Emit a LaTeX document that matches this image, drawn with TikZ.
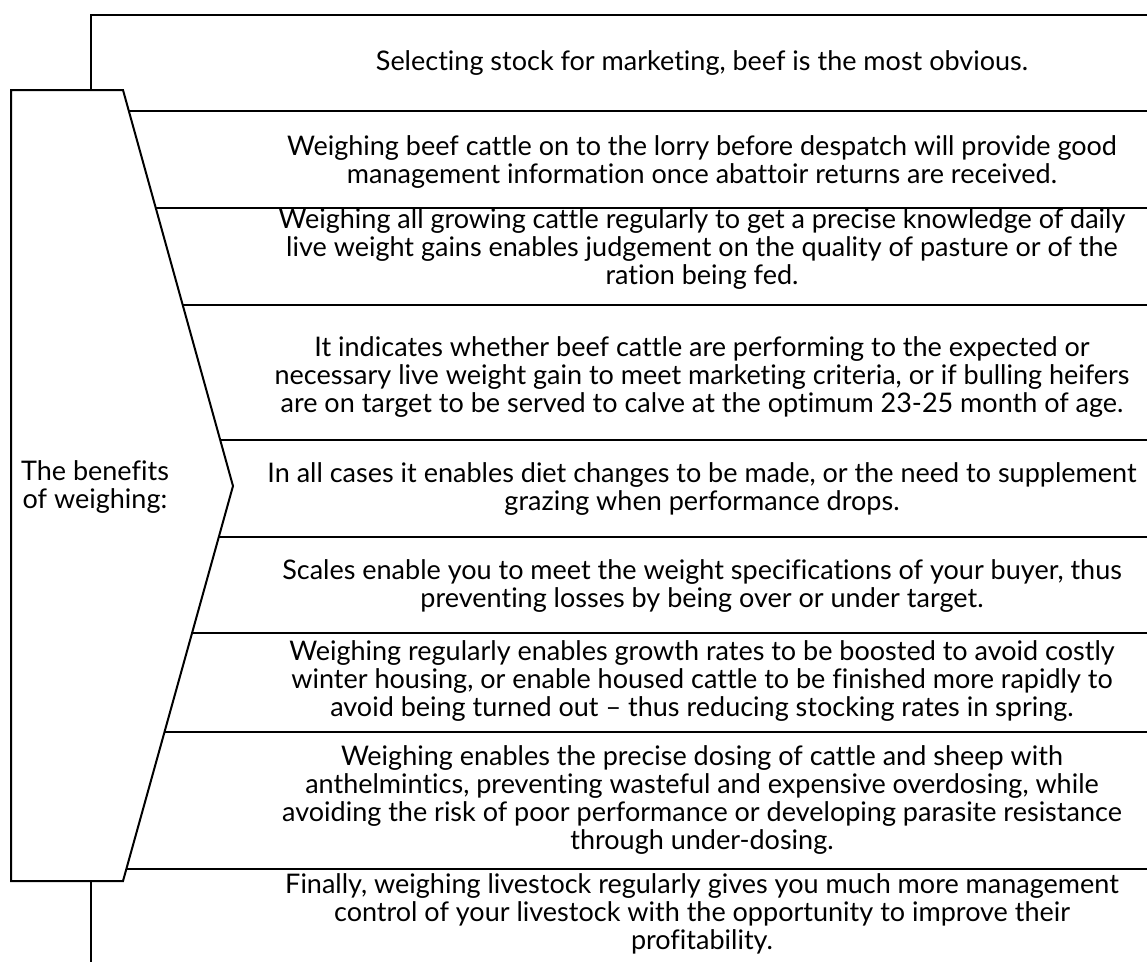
\documentclass[tikz,border=0pt]{standalone}
\usepackage{fontspec}
\setmainfont{Lato}[Ligatures=NoCommon]
\usepackage{tikz}
\usetikzlibrary{positioning,calc}

\tikzset{
  frame/.style={line width=2pt, black, line join=miter},
  itemtext/.style={align=center, inner sep=0pt, font=\fontsize{27}{27.8}\selectfont},
}

\begin{document}
\begin{tikzpicture}[x=1pt, y=-1pt]
    \useasboundingbox (0,0) rectangle (1147,962);

    % Bracket round the list
    \draw[frame] (91,90) -- (91,15) -- (1147,15);
    \draw[frame] (91,881) -- (91,962);

    % Left arrow-shaped label box
    \coordinate (tl) at (11,90);
    \coordinate (tr) at (123,90);
    \coordinate (tip) at (233,486);
    \coordinate (br) at (123,881);
    \coordinate (bl) at (11,881);
    \draw[frame] (tl) -- (tr) -- (tip) -- (br) -- (bl) -- cycle;
    \node[itemtext] (label) at (95,487) {The benefits\\of weighing:};

    % Separators between the items
    \foreach \x/\y in {128.8/111, 155.8/208, 182.7/305, 220.2/440,
                       218.8/537, 192.1/633, 164.5/732, 126.3/869}
        \draw[frame] (\x,\y) -- (1147,\y);

    % Items
    \node[itemtext] (b1) at (702,63) {Selecting stock for marketing, beef is the most obvious.};
    \node[itemtext] (b2) at (702,162) {Weighing beef cattle on to the lorry before despatch will provide good\\management information once abattoir returns are received.};
    \node[itemtext] (b3) at (702,249) {Weighing all growing cattle regularly to get a precise knowledge of daily\\live weight gains enables judgement on the quality of pasture or of the\\ration being fed.};
    \node[itemtext] (b4) at (702,377) {It indicates whether beef cattle are performing to the expected or\\necessary live weight gain to meet marketing criteria, or if bulling heifers\\are on target to be served to calve at the optimum 23-25 month of age.};
    \node[itemtext] (b5) at (702,489) {In all cases it enables diet changes to be made, or the need to supplement\\grazing when performance drops.};
    \node[itemtext] (b6) at (702,586) {Scales enable you to meet the weight specifications of your buyer, thus\\preventing losses by being over or under target.};
    \node[itemtext] (b7) at (702,681) {Weighing regularly enables growth rates to be boosted to avoid costly\\winter housing, or enable housed cattle to be finished more rapidly to\\avoid being turned out – thus reducing stocking rates in spring.};
    \node[itemtext] (b8) at (702,800) {Weighing enables the precise dosing of cattle and sheep with\\anthelmintics, preventing wasteful and expensive overdosing, while\\avoiding the risk of poor performance or developing parasite resistance\\through under-dosing.};
    \node[itemtext] (b9) at (702,914) {Finally, weighing livestock regularly gives you much more management\\control of your livestock with the opportunity to improve their\\profitability.};

\end{tikzpicture}
\end{document}
